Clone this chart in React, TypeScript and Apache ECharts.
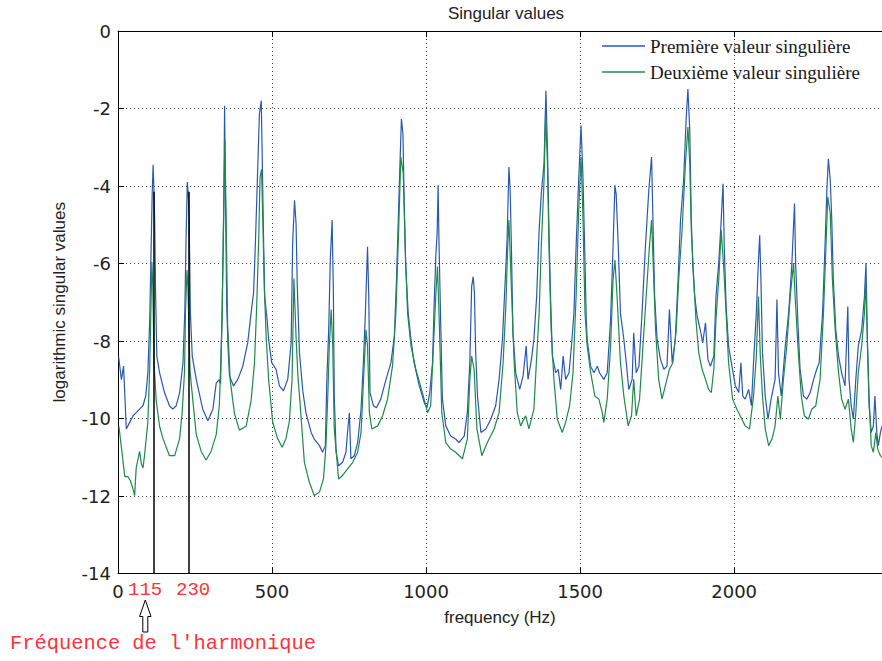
import React, { useEffect, useRef } from "react";
import * as echarts from "echarts";

// ---- data ----
const xMin = 0;
const xMax = 2480;
const xInterval = 500;
const yMin = -14;
const yMax = 0;
const yInterval = 2;

const seriesNames = ["Première valeur singulière", "Deuxième valeur singulière"];

// [frequency (Hz), log singular value]
const premiereValeur: [number, number][] = [
  [2,-8.4],[11,-9.0],[18,-8.65],[27,-10.27],[38,-10.1],[49,-9.93],[59,-9.85],[70,-9.76],[81,-9.67],[90,-9.42],[97,-8.82],[103,-7.45],[107,-5.82],[111,-4.2],[114,-3.45],[117,-4.2],[119,-4.88],[122,-6.76],[126,-8.39],[135,-8.82],[151,-9.33],[167,-9.67],[178,-9.76],[189,-9.67],[200,-9.33],[211,-8.56],[217,-7.19],[221,-5.31],[225,-3.9],[228,-4.2],[231,-4.88],[235,-7.28],[241,-8.39],[254,-8.99],[275,-9.76],[292,-10.06],[308,-9.76],[319,-9.08],[329,-9.0],[333,-9.1],[338,-7.11],[343,-4.88],[346,-1.93],[349,-4.45],[353,-7.11],[357,-8.13],[362,-8.9],[375,-9.16],[389,-8.99],[405,-8.65],[421,-8.05],[432,-7.28],[440,-6.76],[446,-5.48],[452,-3.94],[459,-2.14],[465,-1.8],[468,-3.17],[472,-5.14],[476,-6.85],[483,-7.36],[489,-7.96],[499,-8.56],[513,-8.73],[524,-9.16],[537,-9.29],[551,-8.99],[562,-8.05],[567,-5.48],[573,-4.37],[578,-4.97],[582,-6.59],[589,-8.3],[600,-9.3],[610,-9.85],[627,-10.36],[637,-10.53],[654,-10.7],[664,-10.87],[673,-10.7],[678,-8.99],[684,-7.71],[689,-5.91],[695,-4.88],[699,-6.68],[702,-9.42],[708,-10.87],[716,-11.22],[729,-11.13],[740,-10.87],[745,-10.36],[751,-9.85],[756,-11.04],[767,-10.96],[778,-10.62],[789,-9.76],[797,-8.48],[803,-7.28],[810,-5.57],[814,-6.85],[818,-9.33],[829,-9.67],[839,-9.72],[853,-9.5],[870,-8.99],[886,-8.56],[897,-7.88],[904,-6.42],[911,-4.54],[916,-3.25],[920,-2.27],[925,-2.65],[929,-4.37],[934,-6.08],[942,-7.28],[951,-7.96],[961,-8.56],[978,-9.16],[994,-9.59],[1003,-9.72],[1012,-9.33],[1021,-8.56],[1026,-7.11],[1032,-5.74],[1036,-5.22],[1039,-3.98],[1042,-5.48],[1048,-7.71],[1053,-9.5],[1064,-10.19],[1080,-10.45],[1096,-10.53],[1107,-10.62],[1124,-10.45],[1134,-9.85],[1142,-8.56],[1148,-6.59],[1153,-6.34],[1157,-6.76],[1161,-8.3],[1167,-9.42],[1178,-10.36],[1194,-10.27],[1210,-10.02],[1226,-9.67],[1237,-8.99],[1248,-7.96],[1256,-6.59],[1263,-5.39],[1267,-4.11],[1269,-3.51],[1273,-4.11],[1277,-5.57],[1282,-7.79],[1291,-8.82],[1304,-9.25],[1315,-8.9],[1325,-8.13],[1331,-8.99],[1342,-8.48],[1350,-7.96],[1359,-6.85],[1367,-5.14],[1374,-4.2],[1383,-3.42],[1389,-1.54],[1394,-3.0],[1399,-5.14],[1404,-6.85],[1410,-8.39],[1421,-8.82],[1429,-8.73],[1437,-9.25],[1445,-8.39],[1453,-8.99],[1464,-8.82],[1472,-8.13],[1480,-7.28],[1487,-5.57],[1494,-4.11],[1503,-2.44],[1509,-3.68],[1516,-5.99],[1520,-7.45],[1523,-7.96],[1534,-8.65],[1545,-8.82],[1556,-8.65],[1563,-8.82],[1577,-8.99],[1588,-8.82],[1599,-7.45],[1607,-5.57],[1613,-3.98],[1617,-4.2],[1624,-5.57],[1631,-7.28],[1642,-7.96],[1650,-8.56],[1658,-9.25],[1669,-8.99],[1674,-7.79],[1682,-8.82],[1691,-8.65],[1701,-7.28],[1712,-5.57],[1723,-4.11],[1732,-3.25],[1736,-4.71],[1742,-6.85],[1750,-7.96],[1761,-8.48],[1772,-8.73],[1782,-8.65],[1790,-7.19],[1799,-8.56],[1809,-7.96],[1818,-6.42],[1826,-4.88],[1836,-3.85],[1844,-2.31],[1850,-1.5],[1856,-2.57],[1861,-4.88],[1866,-6.08],[1872,-6.85],[1880,-7.36],[1890,-7.71],[1898,-8.05],[1907,-7.53],[1915,-8.48],[1923,-8.65],[1934,-8.39],[1941,-6.85],[1950,-5.99],[1958,-4.88],[1964,-3.94],[1968,-5.57],[1974,-7.11],[1982,-8.13],[1993,-8.65],[2004,-9.16],[2015,-9.33],[2022,-8.56],[2028,-9.42],[2036,-9.5],[2047,-9.25],[2056,-9.67],[2063,-8.56],[2072,-7.28],[2079,-5.91],[2083,-5.27],[2087,-6.42],[2092,-8.3],[2101,-9.42],[2110,-10.02],[2120,-9.5],[2133,-8.99],[2139,-6.93],[2144,-8.82],[2153,-9.42],[2166,-8.13],[2177,-7.28],[2187,-6.08],[2196,-4.45],[2200,-6.08],[2207,-7.53],[2214,-8.73],[2225,-9.42],[2236,-9.5],[2247,-9.33],[2258,-8.99],[2268,-8.73],[2276,-8.56],[2287,-7.28],[2295,-5.57],[2301,-4.11],[2306,-3.3],[2312,-3.85],[2317,-4.88],[2322,-6.42],[2330,-7.71],[2339,-8.39],[2349,-8.82],[2360,-9.16],[2369,-7.11],[2373,-8.99],[2380,-9.67],[2387,-10.02],[2395,-8.99],[2403,-8.13],[2414,-7.71],[2423,-6.85],[2428,-5.99],[2433,-8.13],[2438,-9.67],[2445,-10.36],[2452,-10.19],[2457,-9.42],[2463,-10.36],[2468,-10.7],[2475,-10.36],[2480,-10.2]
];

const deuxiemeValeur: [number, number][] = [
  [3,-10.2],[11,-10.74],[22,-11.5],[32,-11.5],[40,-11.6],[49,-11.83],[54,-11.99],[59,-11.28],[70,-10.85],[76,-11.17],[81,-11.28],[86,-10.96],[97,-10.09],[103,-8.67],[106,-7.48],[110,-5.96],[113,-6.61],[117,-8.57],[124,-9.54],[135,-10.2],[146,-10.52],[167,-10.96],[184,-10.96],[200,-10.52],[208,-9.87],[216,-8.78],[219,-7.26],[224,-6.17],[227,-6.61],[230,-7.59],[234,-8.78],[243,-9.54],[254,-10.41],[270,-10.85],[286,-11.07],[302,-10.85],[319,-10.41],[329,-9.65],[338,-7.48],[342,-5.09],[347,-2.8],[351,-4.87],[356,-7.59],[364,-9.0],[378,-9.87],[394,-10.3],[416,-10.2],[432,-9.54],[443,-8.57],[450,-7.15],[457,-5.3],[461,-3.78],[466,-3.57],[470,-4.87],[475,-6.61],[481,-7.91],[489,-9.0],[502,-10.09],[518,-10.52],[533,-10.74],[545,-10.52],[556,-10.09],[565,-9.0],[571,-6.39],[578,-7.9],[584,-8.9],[590,-9.5],[605,-11.13],[621,-11.64],[637,-11.99],[654,-11.9],[667,-11.56],[675,-10.7],[681,-9.42],[686,-8.13],[692,-7.19],[697,-8.13],[702,-10.27],[716,-11.56],[729,-11.47],[745,-11.3],[762,-11.13],[778,-10.87],[789,-10.36],[797,-8.99],[805,-7.71],[810,-8.13],[816,-9.85],[824,-10.27],[843,-10.19],[859,-9.93],[875,-9.5],[891,-8.65],[902,-7.28],[911,-5.14],[918,-3.25],[926,-3.68],[932,-5.57],[940,-7.28],[951,-8.13],[967,-8.73],[988,-9.33],[1005,-9.85],[1015,-9.67],[1024,-8.13],[1032,-6.76],[1037,-6.08],[1042,-7.28],[1051,-9.85],[1064,-10.62],[1080,-10.79],[1096,-10.87],[1118,-11.04],[1134,-10.53],[1142,-8.99],[1148,-8.39],[1156,-8.73],[1165,-10.27],[1181,-10.96],[1199,-10.62],[1221,-10.27],[1237,-9.85],[1250,-8.56],[1259,-7.11],[1265,-5.57],[1269,-4.88],[1276,-6.42],[1286,-8.56],[1296,-9.85],[1307,-10.19],[1323,-9.93],[1334,-10.27],[1350,-9.76],[1358,-8.56],[1367,-7.28],[1374,-5.57],[1383,-3.85],[1388,-2.14],[1394,-3.42],[1399,-5.57],[1406,-7.71],[1415,-8.99],[1426,-10.02],[1442,-10.36],[1453,-10.1],[1466,-9.67],[1477,-8.82],[1487,-6.85],[1496,-4.54],[1503,-3.25],[1509,-4.71],[1516,-7.28],[1523,-8.13],[1534,-8.8],[1548,-9.42],[1561,-9.5],[1572,-9.85],[1577,-10.1],[1588,-9.5],[1599,-8.13],[1607,-6.42],[1613,-5.91],[1620,-6.85],[1631,-8.56],[1642,-9.42],[1656,-10.19],[1667,-9.93],[1674,-8.99],[1682,-9.93],[1693,-9.5],[1704,-8.13],[1718,-6.42],[1725,-5.57],[1732,-4.88],[1736,-5.74],[1745,-7.71],[1755,-8.99],[1766,-9.5],[1779,-9.08],[1790,-8.73],[1801,-8.56],[1812,-7.71],[1820,-6.42],[1831,-5.14],[1842,-3.42],[1850,-2.48],[1856,-3.42],[1861,-5.14],[1869,-6.42],[1876,-7.45],[1885,-8.3],[1896,-8.73],[1907,-8.99],[1917,-9.25],[1926,-9.33],[1934,-8.73],[1941,-7.45],[1950,-6.42],[1958,-5.14],[1966,-6.08],[1974,-7.28],[1982,-8.56],[1995,-9.5],[2009,-9.76],[2025,-10.02],[2036,-10.19],[2050,-10.27],[2063,-9.42],[2072,-8.39],[2079,-6.85],[2085,-8.39],[2092,-9.42],[2101,-10.27],[2112,-10.7],[2123,-10.53],[2133,-10.19],[2142,-9.42],[2150,-10.02],[2160,-8.99],[2171,-8.13],[2182,-6.85],[2193,-5.99],[2198,-6.85],[2207,-8.13],[2218,-9.42],[2228,-9.93],[2241,-10.02],[2252,-9.76],[2265,-9.67],[2279,-8.99],[2290,-7.28],[2298,-5.57],[2304,-4.28],[2312,-4.71],[2319,-6.42],[2328,-7.71],[2339,-8.82],[2349,-9.5],[2360,-9.76],[2371,-9.5],[2380,-10.27],[2387,-10.62],[2395,-9.85],[2403,-8.82],[2414,-8.13],[2423,-7.28],[2427,-6.42],[2433,-8.13],[2438,-9.42],[2445,-10.7],[2452,-10.87],[2460,-10.36],[2466,-10.79],[2475,-10.96],[2480,-11.0]
];

// harmonic markers (vertical black lines)
const harmonicFreqs = [115, 230];
const harmonicTop = -4.15;
const harmonicLabels = ["115", "230"];
const annotationText = "Fréquence de l'harmonique";

const BLUE = "#2a57b4";
const GREEN = "#1d8a4a";
const RED = "#ff3333";

export default function App() {
  const ref = useRef<HTMLDivElement>(null);

  useEffect(() => {
    if (!ref.current) return;
    const chart = echarts.init(ref.current, undefined, { renderer: "svg" });

    const sans = "'Liberation Sans', Arial, sans-serif";
    const tickFont = "'DejaVu Sans', sans-serif";
    const mono = "'Liberation Mono', 'DejaVu Sans Mono', monospace";

    chart.setOption({
      animation: false,
      backgroundColor: "#ffffff",
      title: {
        text: "Singular values",
        left: 501,
        top: 0,
        textAlign: "center",
        textStyle: { fontFamily: sans, fontSize: 17, fontWeight: "normal", color: "#222" },
      },
      legend: {
        data: seriesNames,
        orient: "vertical",
        left: 602,
        top: 36,
        padding: 0,
        itemGap: 6,
        itemWidth: 43,
        itemHeight: 1.5,
        icon: "rect",
        textStyle: { fontFamily: "'Liberation Serif', 'Times New Roman', serif", fontSize: 19, lineHeight: 20, color: "#1a1a1a" },
      },
      grid: { left: 118, top: 31, right: -2, bottom: 87.5, containLabel: false },
      xAxis: [
        {
          type: "value",
          position: "bottom",
          min: xMin,
          max: xMax,
          interval: xInterval,
          axisLine: { show: true, onZero: false, lineStyle: { color: "#000", width: 1 } },
          axisTick: { show: true, inside: true, length: 6, lineStyle: { color: "#000" } },
          axisLabel: {
            showMaxLabel: false,
            margin: 9,
            fontFamily: tickFont,
            fontSize: 18,
            color: "#222",
            formatter: (v: number) => String(v),
          },
          splitLine: { show: true, lineStyle: { type: [1, 3], color: "#444", width: 1 } },
          name: "frequency (Hz)",
          nameLocation: "middle",
          nameGap: 35,
          nameTextStyle: { fontFamily: sans, fontSize: 17, color: "#222" },
        },
        {
          type: "value",
          position: "top",
          min: xMin,
          max: xMax,
          interval: xInterval,
          axisLine: { show: true, onZero: false, lineStyle: { color: "#000", width: 1 } },
          axisTick: { show: true, inside: true, length: 6, lineStyle: { color: "#000" } },
          axisLabel: { show: false },
          splitLine: { show: false },
        },
      ],
      yAxis: {
        type: "value",
        min: yMin,
        max: yMax,
        interval: yInterval,
        axisLine: { show: true, onZero: false, lineStyle: { color: "#000", width: 1 } },
        axisTick: { show: true, inside: true, length: 6, lineStyle: { color: "#000" } },
        axisLabel: { margin: 7, fontFamily: tickFont, fontSize: 18, color: "#222", formatter: (v: number) => String(v) },
        splitLine: { show: true, lineStyle: { type: [1, 3], color: "#444", width: 1 } },
        name: "logarithmic singular values",
        nameLocation: "middle",
        nameGap: 50,
        nameTextStyle: { fontFamily: sans, fontSize: 17, color: "#222" },
      },
      series: [
        {
          type: "line",
          name: seriesNames[0],
          data: premiereValeur,
          symbol: "none",
          showSymbol: false,
          lineStyle: { color: BLUE, width: 1.2 },
          itemStyle: { color: BLUE },
          z: 2,
        },
        {
          type: "line",
          name: seriesNames[1],
          data: deuxiemeValeur,
          symbol: "none",
          showSymbol: false,
          lineStyle: { color: GREEN, width: 1.2 },
          itemStyle: { color: GREEN },
          z: 3,
          markLine: {
            silent: true,
            symbol: "none",
            label: { show: false },
            lineStyle: { color: "#000", width: 1.5, type: "solid" },
            data: harmonicFreqs.map((f) => [
              { coord: [f, yMin] },
              { coord: [f, harmonicTop] },
            ]),
          },
        },
      ],
      graphic: [
        {
          type: "text",
          left: 128,
          top: 580,
          style: { text: harmonicLabels[0], fill: RED, fontFamily: mono, fontSize: 19 },
        },
        {
          type: "text",
          left: 176,
          top: 580,
          style: { text: harmonicLabels[1], fill: RED, fontFamily: mono, fontSize: 19 },
        },
        {
          type: "polygon",
          shape: {
            points: [
              [145.3, 600], [151, 616.5], [147.8, 616.5], [147.8, 632],
              [142.8, 632], [142.8, 616.5], [139.6, 616.5],
            ],
          },
          style: { fill: "#fff", stroke: "#000", lineWidth: 1 },
        },
        {
          type: "text",
          left: 10,
          top: 633,
          style: { text: annotationText, fill: RED, fontFamily: mono, fontSize: 20.4 },
        },
      ],
    });

    return () => chart.dispose();
  }, []);

  return (
    <div
      ref={ref}
      style={{ position: "absolute", left: 0, top: 0, width: 882, height: 661, background: "#fff" }}
    />
  );
}
